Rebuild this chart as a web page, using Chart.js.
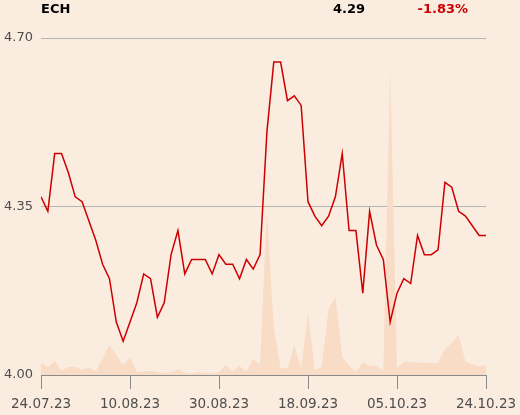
<!DOCTYPE html>
<html><head><meta charset="utf-8">
<script src="https://cdn.jsdelivr.net/npm/chart.js@4/dist/chart.umd.min.js"></script>
<style>
html,body{margin:0;padding:0;background:#fbece0;}
#wrap{position:relative;width:520px;height:415px;}
</style></head><body>
<div id="wrap"><canvas id="c" width="520" height="415"></canvas></div>
<script>
const ticker = 'ECH';
const lastPrice = '4.29';
const changePct = '-1.83%';
const tickLabels = ['24.07.23','10.08.23','30.08.23','18.09.23','05.10.23','24.10.23'];
const yTicks = [4.00, 4.35, 4.70];
const prices = [4.37,4.34,4.46,4.46,4.42,4.37,4.36,4.32,4.28,4.23,
  4.20,4.11,4.07,4.11,4.15,4.21,4.20,4.12,4.15,4.25,
  4.30,4.21,4.24,4.24,4.24,4.21,4.25,4.23,4.23,4.20,
  4.24,4.22,4.25,4.505,4.65,4.65,4.57,4.58,4.56,4.36,
  4.33,4.31,4.33,4.37,4.46,4.30,4.30,4.17,4.34,4.27,
  4.24,4.11,4.17,4.20,4.19,4.29,4.25,4.25,4.26,4.40,
  4.39,4.34,4.33,4.31,4.29,4.29];
const volumes = [117,77,143,43,80,83,50,80,33,167,
  300,200,100,177,30,35,40,30,20,23,
  60,23,13,30,20,13,30,100,33,90,
  35,160,100,1650,480,67,67,293,67,617,
  50,83,660,783,183,93,33,127,93,93,
  40,3060,67,133,130,125,122,120,117,263,
  323,400,133,110,83,100];

const header = {
  id: 'header',
  afterDraw(chart) {
    const c = chart.ctx;
    c.save();
    c.font = 'bold 13px "DejaVu Sans"';
    c.textBaseline = 'middle';
    c.textAlign = 'left';
    c.fillStyle = '#000';
    c.fillText(ticker, 41, 10);
    c.textAlign = 'right';
    c.fillText(lastPrice, 365, 10);
    c.fillStyle = '#cc0000';
    c.fillText(changePct, 468, 10);
    c.restore();
  }
};
const bg = {
  id: 'bg',
  beforeDraw(chart) {
    const c = chart.ctx;
    c.save();
    c.fillStyle = '#fbece0';
    c.fillRect(0, 0, chart.width, chart.height);
    c.restore();
  }
};

const step = (prices.length - 1) / (tickLabels.length - 1);

new Chart(document.getElementById('c'), {
  type: 'line',
  data: {
    datasets: [
      {
        label: 'Price',
        data: prices.map((p, i) => ({x: i, y: p})),
        borderColor: '#cc0000',
        borderWidth: 1.5,
        pointRadius: 0,
        tension: 0,
        fill: false,
        yAxisID: 'y',
        order: 1
      },
      {
        label: 'Volume',
        data: volumes.map((v, i) => ({x: i, y: v})),
        borderWidth: 0,
        borderColor: 'rgba(0,0,0,0)',
        backgroundColor: '#f8dcc6',
        pointRadius: 0,
        tension: 0,
        fill: 'start',
        yAxisID: 'y2',
        order: 2
      }
    ]
  },
  options: {
    responsive: false,
    devicePixelRatio: 1,
    animation: false,
    layout: {padding: {top: 38, right: 34, bottom: 0, left: 0}},
    plugins: {legend: {display: false}, tooltip: {enabled: false}},
    scales: {
      x: {
        type: 'linear',
        min: 0,
        max: prices.length - 1,
        afterBuildTicks: s => { s.ticks = tickLabels.map((_, k) => ({value: k * step})); },
        afterFit: s => { s.height = 40; s.paddingLeft = 0; s.paddingRight = 0; },
        grid: {drawOnChartArea: false, drawTicks: true, tickLength: 14, color: '#8a8a8a'},
        border: {display: true, color: '#8a8a8a', width: 1},
        ticks: {
          autoSkip: false, maxRotation: 0, padding: 7,
          color: '#4d4d4d',
          font: {family: 'DejaVu Sans', size: 13.5},
          callback: v => tickLabels[Math.round(v / step)]
        }
      },
      y: {
        min: 4.0,
        max: 4.7,
        z: 1,
        afterBuildTicks: s => { s.ticks = yTicks.map(v => ({value: v})); },
        afterFit: s => { s.width = 41; },
        grid: {
          drawTicks: false,
          color: ctx => (ctx.tick && ctx.tick.value === yTicks[0]) ? 'rgba(0,0,0,0)' : '#b5b5b5'
        },
        border: {display: false},
        ticks: {
          padding: 8,
          color: '#4d4d4d',
          font: {family: 'DejaVu Sans', size: 13},
          callback: v => Number(v).toFixed(2)
        }
      },
      y2: {
        display: false,
        min: 0,
        max: 3370
      }
    }
  },
  plugins: [bg, header]
});
</script>
</body></html>
